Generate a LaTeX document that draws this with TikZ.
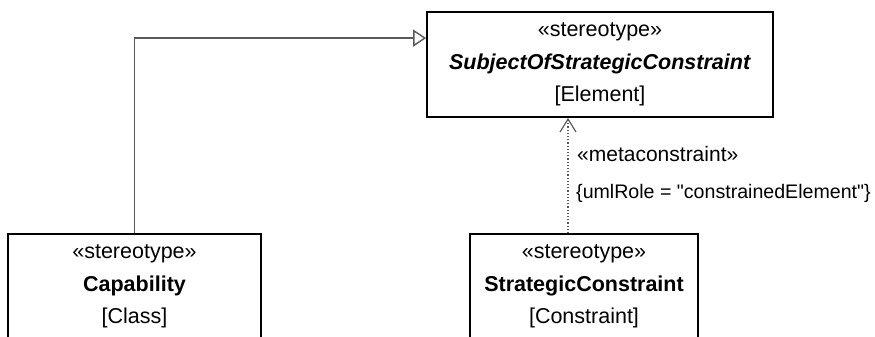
\documentclass[tikz,border=0pt]{standalone}
\usepackage{fontspec}
\setmainfont{Liberation Sans}
\usepackage{tikz}
\usetikzlibrary{arrows.meta, positioning}
\definecolor{linegray}{RGB}{90,90,90}

\begin{document}
\begin{tikzpicture}[
  x=1pt, y=-1pt,
  stereo/.style={rectangle, draw=black, line width=1.8pt, fill=white, align=center,
                 minimum height=105pt, inner sep=0pt, font=\fontsize{21.5pt}{32.5pt}\selectfont},
  gen/.style={-{Triangle[open, length=13pt, width=17pt]}, line width=1.4pt, color=linegray},
  dep/.style={-{Straight Barb[length=13pt, width=16pt]}, line width=1.2pt, color=linegray, dotted},
  lbl/.style={anchor=west, inner sep=0pt, font=\fontsize{21pt}{25pt}\selectfont}
]
  \useasboundingbox (0,0) rectangle (875,337);
  \clip (0,0) rectangle (875,337);

  \node[stereo, minimum width=346pt] (subj) at (600,64.5)
    {«stereotype»\\\textbf{\textit{SubjectOfStrategicConstraint}}\\{[}Element{]}};
  \node[stereo, minimum width=253pt] (cap) at (134.5,286.5)
    {«stereotype»\\\textbf{Capability}\\{[}Class{]}};
  \node[stereo, minimum width=228pt] (sc) at (584,286.5)
    {«stereotype»\\\textbf{StrategicConstraint}\\{[}Constraint{]}};

  % generalization
  \coordinate (genend) at ([yshift=-27pt]subj.north west);
  \draw[gen] (cap.north) |- (genend);

  % metaconstraint
  \coordinate (mc) at ([xshift=-16pt]sc.north);
  \draw[dep] (mc) -- (mc |- subj.south);
  \node[lbl] (mcname) at (577,154) {«metaconstraint»};
  \node[lbl, font=\fontsize{19.6pt}{24pt}\selectfont] (mcrole) at (576,193)
    {\{umlRole = \textquotedbl constrainedElement\textquotedbl\}};
\end{tikzpicture}
\end{document}
